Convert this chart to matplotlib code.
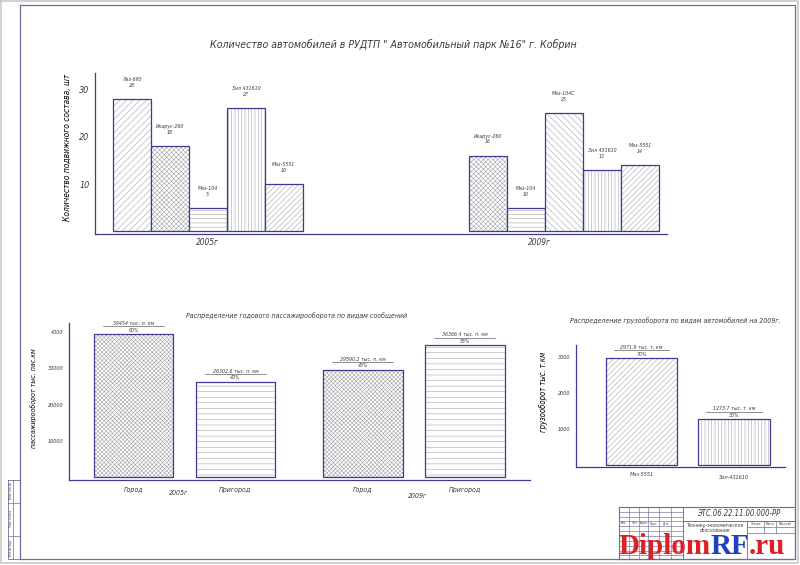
import numpy as np
import matplotlib
matplotlib.use('Agg')
import matplotlib.pyplot as plt
import matplotlib.transforms as mtransforms

W, H = 800, 565

# --- данные ---
models_2005 = ['Лаз-695', 'Икарус-260', 'Маз-104', 'Зил 431610', 'Маз-5551']
counts_2005 = [28, 18, 5, 26, 10]
count_text_2005 = ['28', '18', '5', '27', '10']
models_2009 = ['Икарус-260', 'Маз-104', 'Маз-104С', 'Зил 431610', 'Маз-5551']
counts_2009 = [16, 5, 25, 13, 14]
count_text_2009 = ['16', '10', '25', '13', '14']
years = ['2005г', '2009г']

pass_kind = ['Город', 'Пригород']
pass_2005 = [39454, 26302.6]
pass_2009 = [29590.2, 36366.4]
pass_pct_2005 = ['60%', '40%']
pass_pct_2009 = ['45%', '55%']
pass_ticks = [10000, 20000, 30000, 40000]
pass_tick_labels = ['10000', '20000', '30000', '4000']

cargo_models = ['Маз-5551', 'Зил-431610']
cargo_2009 = [2971.9, 1273.7]
cargo_pct = ['70%', '30%']
cargo_ticks = [1000, 2000, 3000]

navy = '#3b3b8f'
hatch_gray = '#9a9a9a'
text_c = '#3a3a3a'
frame_c = '#6e6e9e'

plt.rcParams['font.family'] = ['DejaVu Sans']
plt.rcParams['font.stretch'] = 'condensed'
plt.rcParams['font.style'] = 'italic'
plt.rcParams['hatch.linewidth'] = 0.35
plt.rcParams['text.color'] = text_c

fig = plt.figure(figsize=(W / 100, H / 100), dpi=100)
fig.patch.set_facecolor('white')


def px_box(x0, y0, x1, y1):
    return [x0 / W, 1 - y1 / H, (x1 - x0) / W, (y1 - y0) / H]


def style_axes(ax, fs):
    for s in ['top', 'right']:
        ax.spines[s].set_visible(False)
    for s in ['left', 'bottom']:
        ax.spines[s].set_color(navy)
        ax.spines[s].set_linewidth(0.9)
    ax.tick_params(length=0, labelsize=fs, labelcolor=text_c, pad=4)
    ax.set_xticks([])
    ax.patch.set_alpha(0)


def draw_bar(ax, x, h, w, hatch):
    ax.bar(x, h, w, color='white', edgecolor=hatch_gray, hatch=hatch, linewidth=0)
    ax.bar(x, h, w, fill=False, edgecolor=navy, linewidth=0.9)


def value_label(ax, x, h, top, bottom, half):
    ax.annotate(bottom, (x, h), xytext=(0, 1), textcoords='offset points',
                ha='center', va='bottom', fontsize=3.8)
    tr = mtransforms.offset_copy(ax.transData, fig=fig, y=7.5, units='dots')
    ax.plot([x - half, x + half], [h, h], color=text_c, lw=0.4, transform=tr)
    ax.annotate(top, (x, h), xytext=(0, 5.8), textcoords='offset points',
                ha='center', va='bottom', fontsize=3.8)


# ---------- верхняя диаграмма ----------
ax1 = fig.add_axes(px_box(95, 73, 667, 234))
style_axes(ax1, 6.5)
ax1.set_xlim(0, 15.05)
ax1.set_ylim(-0.53, 33.4)
ax1.set_yticks([10, 20, 30])
group_start = [0.47, 9.84]
groups = [(models_2005, counts_2005, count_text_2005,
           ['/////', 'xxxxxxx', '----', '|||||', '//////']),
          (models_2009, counts_2009, count_text_2009,
           ['xxxxxxx', '----', '\\\\\\\\\\', '|||||', '//////'])]
for g, (models, counts, texts, hatches) in enumerate(groups):
    for i, (m, c, t, hh) in enumerate(zip(models, counts, texts, hatches)):
        x = group_start[g] + 0.5 + i
        draw_bar(ax1, x, c, 1.0, hh)
        ax1.annotate(f'{m}\n{t}', (x, c), xytext=(0, 8), textcoords='offset points',
                     ha='center', va='bottom', fontsize=3.8, linespacing=1.15)
year_x_top = [2.97, 11.7]
for yx, yr in zip(year_x_top, years):
    ax1.text(yx, -0.53, yr, ha='center', va='top', fontsize=6,
             transform=mtransforms.offset_copy(ax1.transData, fig=fig, y=-4, units='dots'))
ax1.set_ylabel('Количество подвижного состава, шт', fontsize=6)
ax1.yaxis.set_label_coords((72 - 95) / 572, (234 - 147) / 161)

# ---------- пассажирооборот ----------
ax2 = fig.add_axes(px_box(69, 323, 530, 480))
style_axes(ax2, 4)
ax2.set_xlim(0, 4.52)
ax2.set_ylim(-743, 42472)
ax2.set_yticks(pass_ticks)
ax2.set_yticklabels(pass_tick_labels)
pass_start = [0.632, 2.88]
pass_hatches = ['xxxxxxxx', '---']
for g, (vals, pcts) in enumerate([(pass_2005, pass_pct_2005), (pass_2009, pass_pct_2009)]):
    for i, (v, p) in enumerate(zip(vals, pcts)):
        x = pass_start[g] + i
        draw_bar(ax2, x, v, 0.78, pass_hatches[i])
        value_label(ax2, x, v, f'{v:g} тыс. п. км', p, 0.3)
        ax2.text(x, -743, pass_kind[i], ha='center', va='top', fontsize=5,
                 transform=mtransforms.offset_copy(ax2.transData, fig=fig, y=-7, units='dots'))
year_x_pass = [1.07, 3.42]
year_dy_pass = [-10, -13]
for yx, dy, yr in zip(year_x_pass, year_dy_pass, years):
    ax2.text(yx, -743, yr, ha='center', va='top', fontsize=5,
             transform=mtransforms.offset_copy(ax2.transData, fig=fig, y=dy, units='dots'))
ax2.set_ylabel('пассажирооборот тыс. пас.км', fontsize=5)
ax2.yaxis.set_label_coords((37 - 69) / 461, (480 - 398) / 157)

# ---------- грузооборот ----------
ax3 = fig.add_axes(px_box(576, 345, 785, 467))
style_axes(ax3, 4)
ax3.set_xlim(0, 2.26)
ax3.set_ylim(-56, 3333)
ax3.set_yticks(cargo_ticks)
cargo_hatches = ['//////', '|||||']
for i, (m, v, p) in enumerate(zip(cargo_models, cargo_2009, cargo_pct)):
    x = 0.708 + i
    draw_bar(ax3, x, v, 0.77, cargo_hatches[i])
    value_label(ax3, x, v, f'{v:g} тыс. т. км', p, 0.3)
    ax3.text(x, -56, m, ha='center', va='top', fontsize=4,
             transform=mtransforms.offset_copy(ax3.transData, fig=fig, y=-5 - 3 * i, units='dots'))
ax3.set_ylabel('грузооборот тыс. т.км', fontsize=5.5)
ax3.yaxis.set_label_coords((548 - 576) / 209, (467 - 392) / 122)

# ---------- рамка, штамп, заголовки ----------
ov = fig.add_axes([0, 0, 1, 1], zorder=5)
ov.set_xlim(0, W)
ov.set_ylim(H, 0)
ov.axis('off')
ov.patch.set_alpha(0)

ov.plot([1, 798, 798, 1, 1], [1, 1, 563, 563, 1], color='#c8c8c8', lw=1.2)
ov.plot([20, 795, 795, 20, 20], [5, 5, 559, 559, 5], color=frame_c, lw=0.9)

# левая полоса
ov.plot([8, 20, 20, 8, 8], [480, 480, 559, 559, 480], color=frame_c, lw=0.6)
ov.plot([13, 13], [480, 559], color=frame_c, lw=0.5)
for yy in [503, 536]:
    ov.plot([8, 20], [yy, yy], color=frame_c, lw=0.5)
for yc, t in zip([491, 519, 547], ['Взам. инв. №', 'Подп. и дата', 'Инв. № подл.']):
    ov.text(10.5, yc, t, rotation=90, ha='center', va='center', fontsize=2)

# основная надпись
ov.plot([619, 795, 795, 619, 619], [507, 507, 559, 559, 507], color=frame_c, lw=0.8)
ov.plot([683, 683], [507, 559], color=frame_c, lw=0.7)
ov.plot([683, 795], [521, 521], color=frame_c, lw=0.7)
ov.plot([747, 747], [521, 559], color=frame_c, lw=0.6)
ov.plot([747, 795], [527, 527], color=frame_c, lw=0.5)
for xx in [764, 776]:
    ov.plot([xx, xx], [521, 533], color=frame_c, lw=0.5)
ov.plot([747, 795], [533, 533], color=frame_c, lw=0.5)
for xx in [629, 639, 648, 659, 671]:
    ov.plot([xx, xx], [507, 559], color=frame_c, lw=0.45)
for yy in [512, 517, 521, 526, 531, 536, 541, 546, 551, 555]:
    ov.plot([619, 683], [yy, yy], color=frame_c, lw=0.45)
for xc, t in zip([624, 634, 643.5, 653.5, 665], ['Изм.', 'Лист', '№ док.', 'Подп.', 'Дата']):
    ov.text(xc, 523.5, t, ha='center', va='center', fontsize=2)
ov.text(739, 514, 'ЭТС.06.22.11.00.000-РР', ha='center', va='center', fontsize=5.5)
ov.text(715, 528, 'Технико-экономическое\nобоснование', ha='center', va='center',
        fontsize=3.6, linespacing=1.1)
for xc, t in zip([755.5, 770, 785.5], ['Литера', 'Масса', 'Масштаб']):
    ov.text(xc, 524, t, ha='center', va='center', fontsize=2.2)

ov.text(393, 44, 'Количество автомобилей в РУДТП " Автомобильный парк №16" г. Кобрин',
        ha='center', va='center', fontsize=7.6)
ov.text(297, 316, 'Распределение годового пассажирооборота по видам сообщений',
        ha='center', va='center', fontsize=5)
ov.text(675, 321, 'Распределение грузооборота по видам автомобилей на 2009г.',
        ha='center', va='center', fontsize=5)

# водяной знак
renderer = fig.canvas.get_renderer()
x_cur = 618
for part, col in [('Diplom', '#dd1f26'), ('RF', '#1f3fc4'), ('.ru', '#dd1f26')]:
    t = ov.text(x_cur, 554, part, ha='left', va='baseline', color=col,
                fontsize=21, fontweight='bold', fontstyle='normal', fontstretch='normal',
                family=['Liberation Serif', 'DejaVu Serif'])
    bb = t.get_window_extent(renderer)
    x_cur += bb.width

fig.savefig('out.png', dpi=100)
